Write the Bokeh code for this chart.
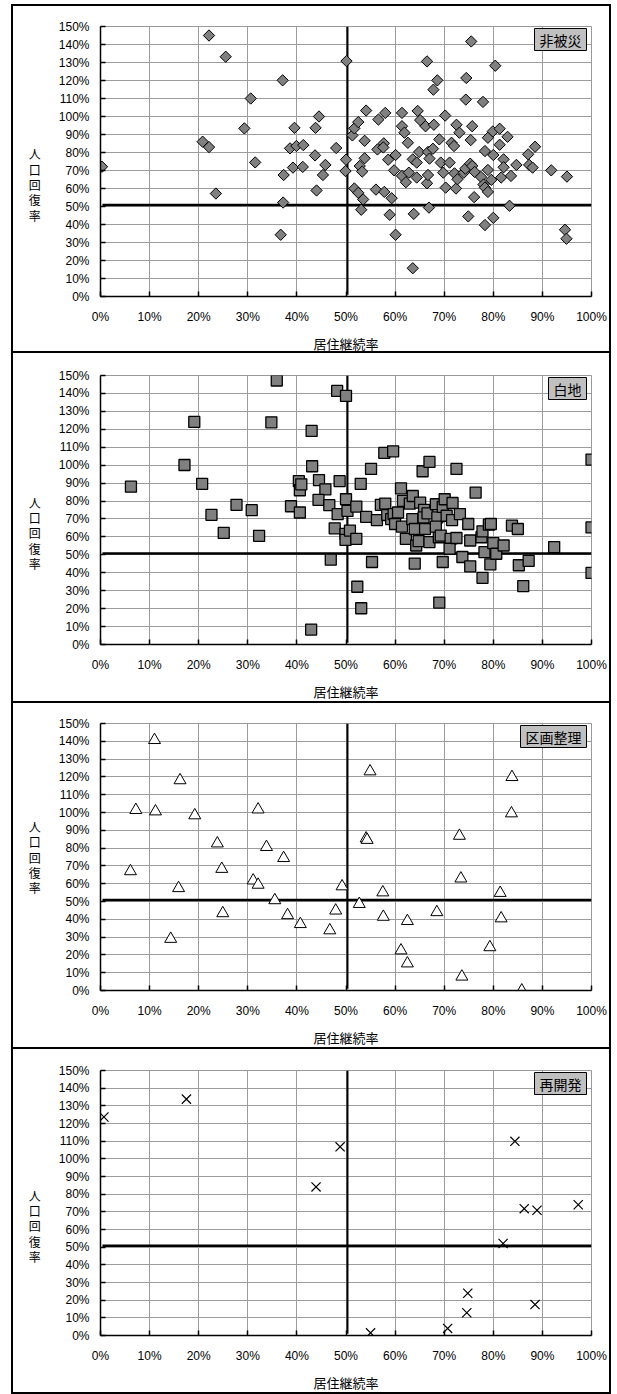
from bokeh.plotting import figure
from bokeh.layouts import column
from bokeh.models import Range1d, NumeralTickFormatter, FixedTicker, Label
from bokeh.embed import file_html
from bokeh.resources import INLINE
import math

# ---------------- data ----------------
X_TICKS = [0.0, 0.1, 0.2, 0.3, 0.4, 0.5, 0.6, 0.7, 0.8, 0.9, 1.0]
Y_TICKS = [0.0, 0.1, 0.2, 0.3, 0.4, 0.5, 0.6, 0.7, 0.8, 0.9, 1.0, 1.1, 1.2, 1.3, 1.4, 1.5]

X_TITLE = "居住継続率"
Y_TITLE_CHARS = ["人", "口", "回", "復", "率"]

# crosshair reference lines
VLINE_X = [0.503, 0.503]
VLINE_Y = [0.01, 1.5]
HLINE_X = [0.004, 1.0]
HLINE_Y = [0.508, 0.508]

# 非被災
hihisai_x = [0.003,0.221,0.255,0.208,0.221,0.235,0.293,0.306,0.315,0.371,
             0.373,0.372,0.367,0.386,0.395,0.392,0.399,0.413,0.412,0.437,
             0.438,0.445,0.440,0.453,0.458,0.480,0.501,0.500,0.499,0.513,
             0.517,0.525,0.517,0.525,0.528,0.533,0.535,0.531,0.541,0.538,
             0.538,0.561,0.566,0.564,0.577,0.576,0.580,0.578,0.586,0.589,
             0.593,0.598,0.601,0.601,0.614,0.614,0.619,0.614,0.626,0.622,
             0.628,0.636,0.638,0.636,0.646,0.651,0.649,0.644,0.644,0.662,
             0.665,0.667,0.670,0.665,0.667,0.669,0.677,0.679,0.678,0.686,
             0.690,0.693,0.698,0.702,0.703,0.711,0.715,0.720,0.721,0.724,
             0.725,0.731,0.727,0.740,0.743,0.745,0.744,0.749,0.755,0.757,
             0.754,0.753,0.757,0.761,0.762,0.775,0.779,0.780,0.783,0.783,
             0.783,0.789,0.789,0.789,0.796,0.799,0.800,0.800,0.804,0.813,
             0.813,0.816,0.821,0.821,0.829,0.833,0.836,0.847,0.871,0.873,
             0.880,0.885,0.918,0.950,0.946,0.949]
hihisai_y = [0.721,1.450,1.332,0.860,0.830,0.572,0.934,1.100,0.745,1.201,
             0.675,0.522,0.343,0.823,0.937,0.716,0.836,0.841,0.720,0.784,
             0.937,1.000,0.589,0.675,0.731,0.825,1.308,0.760,0.697,0.895,
             0.934,0.969,0.600,0.576,0.725,0.694,0.539,0.482,1.033,0.865,
             0.768,0.594,0.983,0.817,0.851,0.828,1.020,0.581,0.760,0.454,
             0.546,0.701,0.786,0.343,1.020,0.946,0.910,0.670,0.854,0.635,
             0.688,0.762,0.459,0.157,1.031,0.980,0.803,0.744,0.661,0.946,
             1.306,0.803,0.766,0.629,0.675,0.494,0.821,0.954,1.149,1.201,
             0.873,0.744,0.688,1.005,0.605,0.744,0.854,0.836,0.684,0.600,
             0.954,0.910,0.651,0.688,0.710,1.214,1.094,0.445,1.417,0.946,
             0.869,0.738,0.725,0.552,0.692,0.664,1.081,0.622,0.605,0.397,
             0.808,0.882,0.703,0.581,0.648,0.917,0.786,0.437,1.282,0.843,
             0.932,0.661,0.762,0.718,0.887,0.504,0.670,0.731,0.790,0.731,
             0.716,0.832,0.701,0.666,0.371,0.321]

# 白地
shirochi_x = [0.062,0.171,0.191,0.207,0.226,0.251,0.277,0.308,0.323,0.359,
              0.348,0.388,0.404,0.406,0.406,0.409,0.430,0.431,0.429,0.445,
              0.458,0.444,0.466,0.469,0.477,0.482,0.487,0.483,0.500,0.500,
              0.503,0.499,0.499,0.508,0.521,0.521,0.523,0.530,0.531,0.541,
              0.551,0.553,0.563,0.571,0.578,0.580,0.584,0.592,0.596,0.597,
              0.600,0.606,0.612,0.614,0.616,0.622,0.630,0.636,0.635,0.640,
              0.640,0.643,0.651,0.656,0.659,0.661,0.658,0.648,0.666,0.670,
              0.670,0.683,0.686,0.689,0.683,0.690,0.693,0.697,0.697,0.701,
              0.705,0.713,0.711,0.716,0.717,0.725,0.725,0.732,0.737,0.749,
              0.753,0.753,0.764,0.776,0.778,0.778,0.782,0.791,0.794,0.795,
              0.800,0.806,0.821,0.838,0.850,0.852,0.861,0.872,0.924,1.000,
              1.000,1.000]
shirochi_y = [0.880,1.001,1.241,0.896,0.723,0.622,0.779,0.749,0.606,1.472,
              1.239,0.771,0.911,0.860,0.736,0.893,1.191,0.994,0.083,0.917,
              0.865,0.806,0.777,0.473,0.648,1.414,0.911,0.727,1.386,0.810,
              0.745,0.617,0.583,0.635,0.769,0.589,0.322,0.896,0.202,0.712,
              0.979,0.460,0.694,0.779,1.068,0.786,0.722,0.699,1.077,0.727,
              0.672,0.736,0.871,0.657,0.801,0.589,0.786,0.828,0.699,0.644,
              0.451,0.552,0.791,0.966,0.751,0.644,0.709,0.576,0.731,1.018,
              0.571,0.782,0.709,0.598,0.657,0.234,0.607,0.767,0.460,0.810,
              0.718,0.589,0.534,0.694,0.789,0.979,0.594,0.727,0.488,0.672,
              0.580,0.436,0.847,0.598,0.631,0.372,0.515,0.668,0.447,0.672,
              0.565,0.506,0.552,0.663,0.644,0.442,0.326,0.466,0.543,1.031,
              0.653,0.399]

# 区画整理
kukaku_x = [0.110,0.162,0.072,0.112,0.192,0.061,0.159,0.143,0.238,0.247,
            0.249,0.321,0.311,0.321,0.338,0.373,0.355,0.381,0.407,0.492,
            0.479,0.467,0.527,0.549,0.541,0.543,0.575,0.576,0.625,0.612,
            0.625,0.685,0.731,0.734,0.736,0.793,0.814,0.816,0.838,0.837,
            0.858]
kukaku_y = [1.407,1.181,1.014,1.006,0.984,0.670,0.575,0.290,0.826,0.683,
            0.434,1.017,0.618,0.594,0.806,0.744,0.507,0.423,0.373,0.585,
            0.449,0.338,0.486,1.231,0.854,0.846,0.551,0.414,0.390,0.225,
            0.152,0.440,0.869,0.629,0.078,0.243,0.548,0.405,1.199,0.995,
            0.000]

# 再開発
saikaihatsu_x = [0.007,0.175,0.488,0.439,0.844,0.863,0.889,0.973,0.820,0.748,0.746,0.885,0.707,0.550]
saikaihatsu_y = [1.237,1.338,1.068,0.841,1.099,0.718,0.709,0.740,0.521,0.239,0.129,0.175,0.040,0.015]

PANELS = [
    # name, xs, ys, marker, outer height, top border, bottom border, y-title lead lines, first
    ("非被災", hihisai_x, hihisai_y, "diamond", 349, 20, 54, 3, True),
    ("白地", shirochi_x, shirochi_y, "square", 350, 22, 55, 3, False),
    ("区画整理", kukaku_x, kukaku_y, "triangle", 346, 20, 53, 0, False),
    ("再開発", saikaihatsu_x, saikaihatsu_y, "x", 345, 21, 51, 3, False),
]

TICK_FONT = "Liberation Sans"
JP_FONT = "Noto Sans CJK JP"


def make_panel(name, xs, ys, kind, h, mbt, mbb, lead, first):
    p = figure(width=600, height=h, x_range=Range1d(0, 1), y_range=Range1d(0, 1.5),
               output_backend="svg", toolbar_location=None, title=None,
               min_border_left=87, min_border_right=22,
               min_border_top=mbt, min_border_bottom=mbb)
    p.background_fill_color = "white"
    p.border_fill_color = "white"
    p.outline_line_color = "#999999"
    p.outline_line_width = 1

    p.xaxis.ticker = FixedTicker(ticks=X_TICKS)
    p.yaxis.ticker = FixedTicker(ticks=Y_TICKS)
    p.grid.grid_line_color = "#9c9c9c"
    p.grid.grid_line_width = 1

    for ax in (p.xaxis[0], p.yaxis[0]):
        ax.formatter = NumeralTickFormatter(format="0%")
        ax.axis_line_color = "black"
        ax.axis_line_width = 1.5
        ax.major_tick_in = 5
        ax.major_tick_out = 0
        ax.major_tick_line_color = "black"
        ax.major_tick_line_width = 1.5
        ax.minor_tick_line_color = None
        ax.major_label_text_font = TICK_FONT
        ax.major_label_text_font_size = "12px"
        ax.major_label_text_color = "black"
    p.yaxis.major_label_standoff = 11
    p.xaxis.major_label_standoff = 13

    xa = p.xaxis[0]
    xa.axis_label = X_TITLE
    xa.axis_label_text_font = JP_FONT
    xa.axis_label_text_font_size = "13px"
    xa.axis_label_text_font_style = "normal"
    xa.axis_label_text_color = "black"
    xa.axis_label_standoff = 7

    ya = p.yaxis[0]
    if "axis_label_orientation" in ya.properties():
        ya.axis_label = "\n" * lead + "\n".join(Y_TITLE_CHARS)
        ya.axis_label_orientation = "horizontal"
        ya.axis_label_text_line_height = 0.9
    else:
        ya.axis_label = "".join(Y_TITLE_CHARS)
    ya.axis_label_text_font = JP_FONT
    ya.axis_label_text_font_size = "12px"
    ya.axis_label_text_font_style = "normal"
    ya.axis_label_text_color = "black"
    ya.axis_label_standoff = 15

    # crosshair
    p.line(VLINE_X, VLINE_Y, line_color="black", line_width=2)
    p.line(HLINE_X, HLINE_Y, line_color="black", line_width=2.5)

    if kind == "diamond":
        p.scatter(xs, ys, marker="square", angle=math.pi / 4, size=8,
                  fill_color="#808080", line_color="black", line_width=1)
    elif kind == "square":
        p.scatter(xs, ys, marker="square", size=11,
                  fill_color="#808080", line_color="black", line_width=1.3)
    elif kind == "triangle":
        p.scatter(xs, ys, marker="triangle", size=12,
                  fill_color="white", line_color="black", line_width=1)
    else:
        p.scatter(xs, ys, marker="x", size=13, line_color="black", line_width=1.2)

    tag = Label(x=1.0, y=1.5, text=name, text_align="right", text_baseline="top",
                text_font=JP_FONT, text_font_size="14px", text_color="black",
                background_fill_color="#c0c0c0", border_line_color="black",
                border_line_width=1, x_offset=-5, y_offset=-2)
    try:
        tag.padding = dict(left=5, right=5, top=1, bottom=1)
    except Exception:
        tag.padding = 2
    p.add_layout(tag)

    if first:
        p.styles = {"border": "2px solid black"}
    else:
        p.styles = {"border-left": "2px solid black", "border-right": "2px solid black",
                    "border-bottom": "2px solid black"}
    return p


figs = [make_panel(*spec) for spec in PANELS]
layout = column(*figs, spacing=0)
try:
    layout.margin = (4, 0, 0, 11)
except Exception:
    pass

open("out.html", "w").write(file_html(layout, INLINE))
